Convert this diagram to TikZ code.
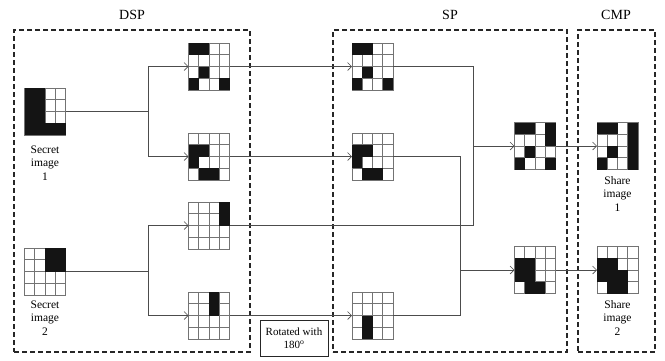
\documentclass[tikz,border=0pt]{standalone}
\usepackage{fontspec}
\setmainfont{Liberation Serif}
\usetikzlibrary{arrows.meta,calc}
\newcommand\gridcells[2]{%
  \foreach \ii in {1,2,3}{%
    \draw[gridline] ($(#1.north west)+({\ii*10.25},0)$) -- ++(0,47);
    \draw[gridline] ($(#1.north west)+(0,{\ii*11.75})$) -- ++(41,0);}
  \draw[gridline] (#1.north west) rectangle (#1.south east);
  \foreach \cc/\rr in {#2}{%
    \fill[cellfill] ($(#1.north west)+({(\cc-1)*10.25},{(\rr-1)*11.75})$) rectangle ++(10.25,11.75);}
}
\begin{document}
\begin{tikzpicture}[x=1pt,y=-1pt,
  gridbox/.style={rectangle,minimum width=41pt,minimum height=47pt,inner sep=0pt,outer sep=0pt},
  gridline/.style={draw=black!55,line width=0.6pt},
  cellfill/.style={fill=black!92},
  conn/.style={draw=black!70,line width=0.6pt},
  arr/.style={conn,-{Straight Barb[length=4pt,width=8pt,line width=0.6pt]}},
  dbox/.style={rectangle,draw=black!85,line width=1.6pt,dash pattern=on 5pt off 3pt,inner sep=0pt},
  head/.style={font=\fontsize{14}{16}\selectfont},
  lbl/.style={align=center,font=\fontsize{11.5}{13.5}\selectfont,inner sep=0pt}]
\useasboundingbox (0,0) rectangle (665,360);
% dashed boxes
\node[dbox,minimum width=236pt,minimum height=322pt] (dspbox) at (132,191) {};
\node[dbox,minimum width=234pt,minimum height=322pt] (spbox) at (450,191) {};
\node[dbox,minimum width=77pt,minimum height=322pt] (cmpbox) at (616.5,191) {};
\node[head] (hdsp) at (132,15) {DSP};
\node[head] (hsp) at (450,15) {SP};
\node[head] (hcmp) at (616,15) {CMP};
% grids
\node[gridbox] (s1) at (45,111.5) {};
\node[gridbox] (s2) at (45,271.5) {};
\node[gridbox] (d1) at (209,66.5) {};
\node[gridbox] (d2) at (209,156.5) {};
\node[gridbox] (d3) at (209,225.5) {};
\node[gridbox] (d4) at (209,315.5) {};
\node[gridbox] (p1) at (372.5,66.5) {};
\node[gridbox] (p2) at (372.5,156.5) {};
\node[gridbox] (p3) at (372.5,315.5) {};
\node[gridbox] (o1) at (535,146) {};
\node[gridbox] (o2) at (535,270) {};
\node[gridbox] (c1) at (617.5,146) {};
\node[gridbox] (c2) at (617.5,270) {};
\gridcells{s1}{1/1,2/1,1/2,2/2,1/3,2/3,1/4,2/4,3/4,4/4}
\gridcells{s2}{3/1,4/1,3/2,4/2}
\gridcells{d1}{1/1,2/1,2/3,1/4,4/4}
\gridcells{d2}{1/2,2/2,1/3,2/4,3/4}
\gridcells{d3}{4/1,4/2}
\gridcells{d4}{3/1,3/2}
\gridcells{p1}{1/1,2/1,2/3,1/4,4/4}
\gridcells{p2}{1/2,2/2,1/3,2/4,3/4}
\gridcells{p3}{2/3,2/4}
\gridcells{o1}{1/1,2/1,4/1,4/2,2/3,1/4,4/4}
\gridcells{o2}{1/2,2/2,1/3,2/3,2/4,3/4}
\gridcells{c1}{1/1,2/1,4/1,4/2,2/3,4/3,1/4,4/4}
\gridcells{c2}{1/2,2/2,1/3,2/3,3/3,2/4,3/4}
% labels
\node[lbl] (ls1) at (45,163) {Secret\\image\\1};
\node[lbl] (ls2) at (45,318) {Secret\\image\\2};
\node[lbl] (lc1) at (617.5,194) {Share\\image\\1};
\node[lbl] (lc2) at (617.5,318) {Share\\image\\2};
\node[rectangle,draw=black!85,line width=0.6pt,minimum width=68pt,minimum height=36pt,align=center,font=\fontsize{11}{13}\selectfont,inner sep=1pt] (rot) at (294,338) {Rotated with\\180\textsuperscript{o}};
% connectors
\coordinate (j1) at (148,111.5);
\coordinate (j2) at (148,271.5);
\coordinate (k1) at (473,146);
\coordinate (k2) at (460,270);
\draw[conn] (s1.east) -- (j1);
\draw[arr] (j1) |- (d1.west);
\draw[arr] (j1) |- (d2.west);
\draw[conn] (s2.east) -- (j2);
\draw[arr] (j2) |- (d3.west);
\draw[arr] (j2) |- (d4.west);
\draw[arr] (d1.east) -- (p1.west);
\draw[arr] (d2.east) -- (p2.west);
\draw[arr] (d4.east) -- (p3.west);
\draw[conn] (p1.east) -| (k1);
\draw[conn] (d3.east) -| (k1);
\draw[arr] (k1) -- (o1.west);
\draw[conn] (p2.east) -| (k2);
\draw[conn] (p3.east) -| (k2);
\draw[arr] (k2) -- (o2.west);
\draw[arr] (o1.east) -- (c1.west);
\draw[arr] (o2.east) -- (c2.west);
\end{tikzpicture}
\end{document}
